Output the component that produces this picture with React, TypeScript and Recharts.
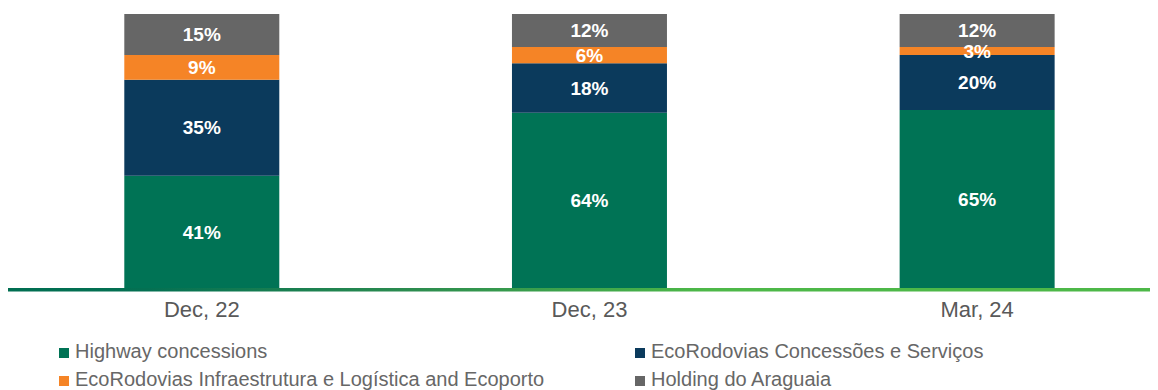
import React from "react";
import { BarChart, Bar, XAxis, YAxis, LabelList, ReferenceLine } from "recharts";

const periods = ["Dec, 22", "Dec, 23", "Mar, 24"];
const highway = [41, 64, 65];
const concessoes = [35, 18, 20];
const infra = [9, 6, 3];
const holding = [15, 12, 12];

const seriesNames = [
  "Highway concessions",
  "EcoRodovias Concessões e Serviços",
  "EcoRodovias Infraestrutura e Logística and Ecoporto",
  "Holding do Araguaia",
];
const seriesKeys = ["highway", "concessoes", "infra", "holding"];
const seriesColors = ["#007355", "#0B3A5C", "#F58426", "#666666"];

const data = periods.map((p, i) => ({
  period: p,
  highway: highway[i],
  concessoes: concessoes[i],
  infra: infra[i],
  holding: holding[i],
}));

const FONT = "'Liberation Sans', Arial, Helvetica, sans-serif";

const Tick = (props: any) => {
  const { x, y, payload } = props;
  return (
    <text x={x} y={y} dy={29} textAnchor="middle" fontSize={22} fill="#595959" fontFamily={FONT}>
      {payload.value}
    </text>
  );
};

const AxisBar = (props: any) => {
  const { x1, y1, x2 } = props;
  return <rect x={x1} y={y1} width={x2 - x1} height={3.5} fill="url(#axisGrad)" />;
};

const legendPos = [
  { left: 51, top: 333 },
  { left: 627, top: 333 },
  { left: 51, top: 361 },
  { left: 627, top: 361 },
];

export default function App() {
  return (
    <div style={{ position: "relative", width: 1150, height: 382, overflow: "hidden" }}>
      <BarChart
        width={1163}
        height={320}
        data={data}
        margin={{ top: 6, right: 0, left: 0, bottom: 0 }}
        barCategoryGap="30%"
      >
        <defs>
          <linearGradient id="axisGrad" x1="0" y1="0" x2="1" y2="0">
            <stop offset="0" stopColor="#006E51" />
            <stop offset="0.12" stopColor="#047052" />
            <stop offset="0.35" stopColor="#2C8C4F" />
            <stop offset="0.6" stopColor="#4DB848" />
            <stop offset="1" stopColor="#4DB848" />
          </linearGradient>
        </defs>
        <YAxis hide domain={[0, 100]} />
        <XAxis
          dataKey="period"
          axisLine={false}
          tickLine={false}
          tickSize={0}
          tickMargin={0}
          height={40}
          interval={0}
          tick={<Tick />}
        />
        {seriesKeys.map((k, i) => (
          <Bar key={k} dataKey={k} name={seriesNames[i]} stackId="a" fill={seriesColors[i]} isAnimationActive={false}>
            <LabelList
              dataKey={k}
              position="center"
              formatter={(v: any) => `${v}%`}
              fill="#FFFFFF"
              fontSize={19}
              fontWeight="bold"
              fontFamily={FONT}
            />
          </Bar>
        ))}
        <ReferenceLine y={0} shape={<AxisBar />} />
      </BarChart>
      {seriesNames.map((n, i) => (
        <React.Fragment key={n}>
          <div
            style={{
              position: "absolute",
              left: legendPos[i].left,
              top: legendPos[i].top + 7,
              width: 10,
              height: 10,
              background: seriesColors[i],
            }}
          />
          <div
            style={{
              position: "absolute",
              left: legendPos[i].left + 16,
              top: legendPos[i].top,
              fontSize: 20,
              lineHeight: "20px",
              fontFamily: FONT,
              color: "#676767",
              whiteSpace: "nowrap",
            }}
          >
            {n}
          </div>
        </React.Fragment>
      ))}
    </div>
  );
}
